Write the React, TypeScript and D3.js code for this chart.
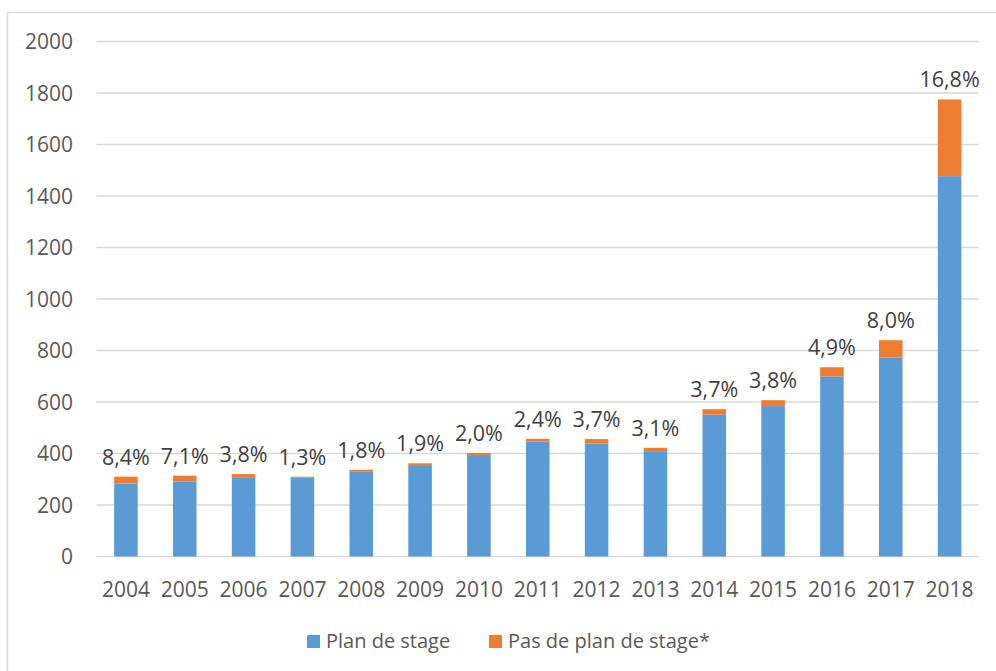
import React from "react";
import * as d3 from "d3";

const years = ["2004", "2005", "2006", "2007", "2008", "2009", "2010", "2011", "2012", "2013", "2014", "2015", "2016", "2017", "2018"];
const planDeStage = [284, 292, 308, 306, 331, 355, 394, 446, 439, 409, 551, 584, 699, 773, 1477];
const pasDePlan = [26, 22, 12, 4, 6, 7, 8, 11, 17, 13, 21, 23, 36, 67, 298];
const shareLabels = ["8,4%", "7,1%", "3,8%", "1,3%", "1,8%", "1,9%", "2,0%", "2,4%", "3,7%", "3,1%", "3,7%", "3,8%", "4,9%", "8,0%", "16,8%"];
const yTicks = [0, 200, 400, 600, 800, 1000, 1200, 1400, 1600, 1800, 2000];
const seriesNames = ["Plan de stage", "Pas de plan de stage*"];

const W = 996;
const H = 671;
const BLUE = "#5B9BD5";
const ORANGE = "#ED7D31";
const FONT = "'Open Sans', 'Noto Sans', sans-serif";

export default function App() {
  const x = d3.scaleBand<string>().domain(years).range([96.5, 979]).paddingInner(0.6).paddingOuter(0.3);
  const y = d3.scaleLinear().domain([0, 2000]).range([556.5, 41.5]);
  const bw = x.bandwidth();

  return (
    <svg width={W} height={H} style={{ position: "absolute", left: 0, top: 0, background: "#fff" }}>
      <rect x={7.5} y={12.5} width={1000} height={670} fill="#fff" stroke="#d9d9d9" strokeWidth={1.5} />
      {yTicks.map((t) => (
        <g key={t}>
          <line x1={96.5} x2={979} y1={y(t)} y2={y(t)} stroke="#d9d9d9" strokeWidth={1.5} />
          <text x={73} y={y(t) + 7.5} textAnchor="end" fontFamily={FONT} fontSize={21} fill="#595959">
            {t}
          </text>
        </g>
      ))}
      {years.map((yr, i) => {
        const x0 = x(yr) as number;
        const total = planDeStage[i] + pasDePlan[i];
        return (
          <g key={yr}>
            <rect x={x0} y={y(planDeStage[i])} width={bw} height={y(0) - y(planDeStage[i])} fill={BLUE} />
            <rect x={x0} y={y(total)} width={bw} height={y(planDeStage[i]) - y(total)} fill={ORANGE} />
            <text x={x0 + bw / 2} y={y(total) - 12} textAnchor="middle" fontFamily={FONT} fontSize={21.5} fill="#404040">
              {shareLabels[i]}
            </text>
            <text x={x0 + bw / 2} y={596.5} textAnchor="middle" fontFamily={FONT} fontSize={21} fill="#595959">
              {yr}
            </text>
          </g>
        );
      })}
      <g>
        <rect x={307} y={635} width={13} height={13} fill={BLUE} />
        <text x={326} y={648} fontFamily={FONT} fontSize={20} fill="#595959">
          {seriesNames[0]}
        </text>
        <rect x={489} y={635} width={13} height={13} fill={ORANGE} />
        <text x={508} y={648} fontFamily={FONT} fontSize={20} fill="#595959">
          {seriesNames[1]}
        </text>
      </g>
    </svg>
  );
}
